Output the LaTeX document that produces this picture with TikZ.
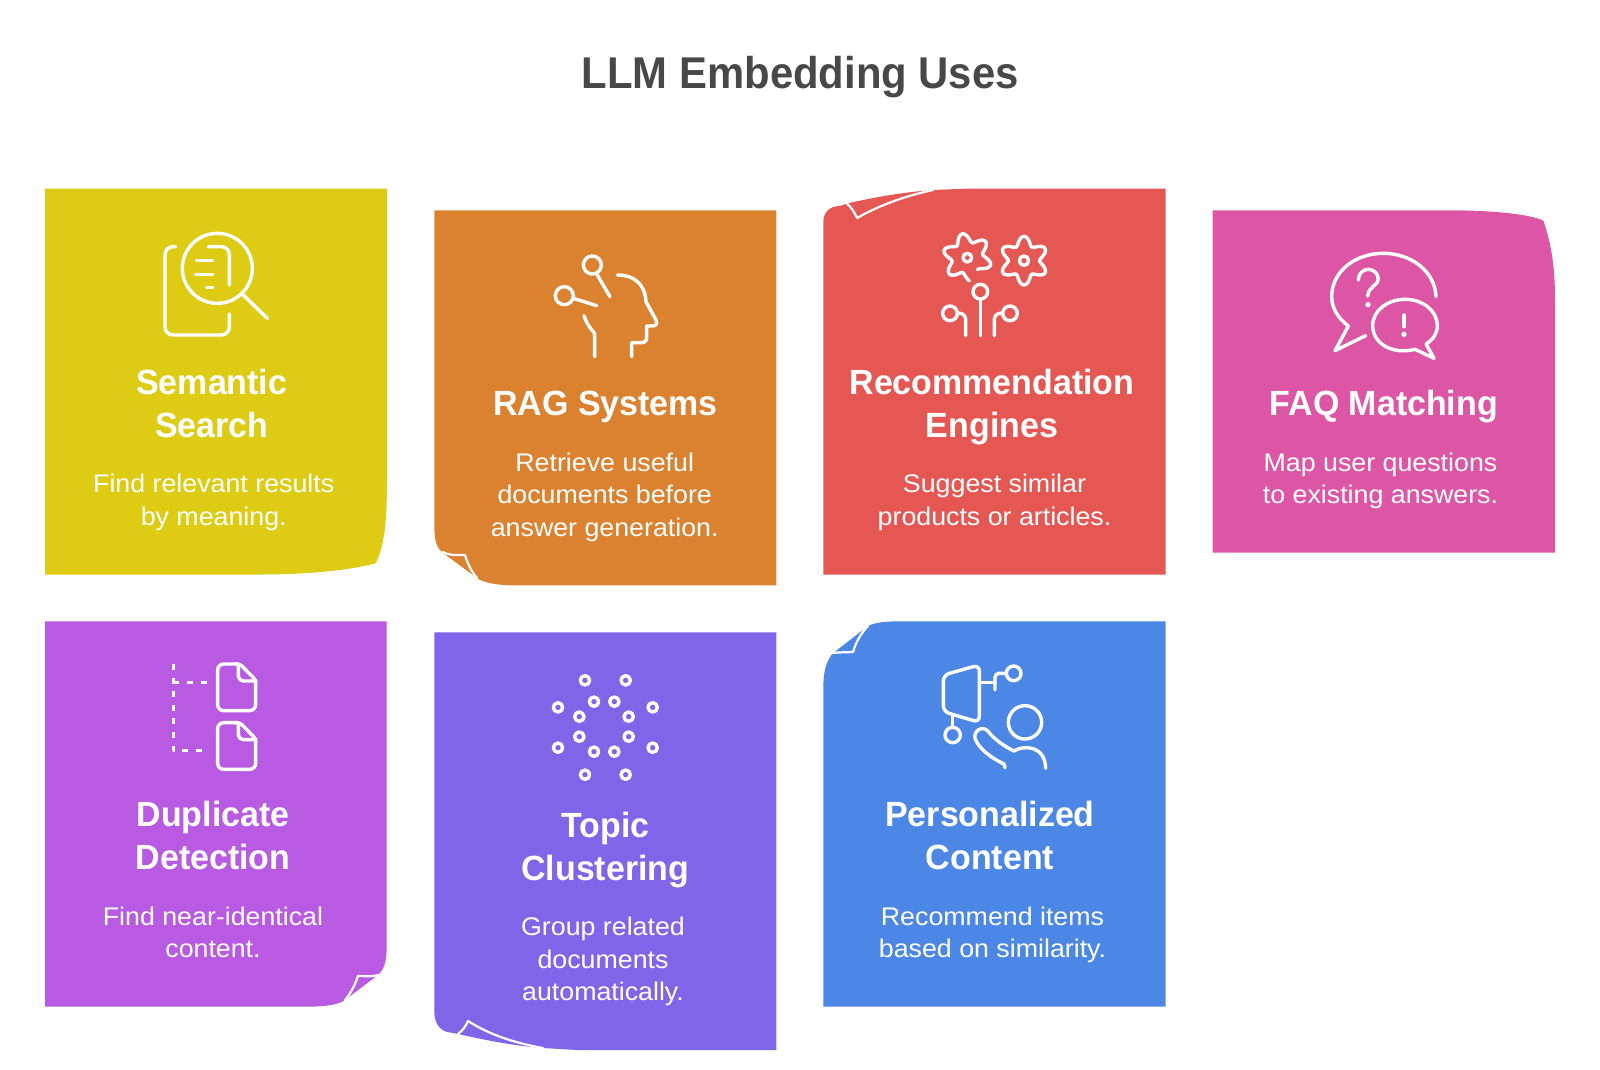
\documentclass[tikz,border=0pt]{standalone}
\usepackage{fontspec}
\setmainfont{Liberation Sans}
\newfontfamily\titlefont[FakeStretch=0.94]{Liberation Sans Bold}
\newfontfamily\headfont[FakeStretch=0.97]{Liberation Sans Bold}
\newfontfamily\bodyfont[FakeStretch=1.05]{Liberation Sans}
\definecolor{cyellow}{HTML}{DDCB14}
\definecolor{corange}{HTML}{DB8231}
\definecolor{cred}{HTML}{E55753}
\definecolor{cpink}{HTML}{DD56A6}
\definecolor{cpurple}{HTML}{B85AE2}
\definecolor{cviolet}{HTML}{7F65E8}
\definecolor{cblue}{HTML}{4C87E6}
\definecolor{ctitle}{HTML}{484848}
\tikzset{
  x=1pt,y=-1pt,
  headtext/.style={anchor=base,align=center,inner sep=0pt,text=white,font=\headfont\fontsize{35}{43}\selectfont},
  bodytext/.style={anchor=base,align=center,inner sep=0pt,text=white,font=\bodyfont\fontsize{25.5}{32.6}\selectfont},
  titletext/.style={anchor=base,inner sep=0pt,text=ctitle,font=\titlefont\fontsize{44.5}{50}\selectfont},
  fold/.style={draw=white,line width=2.2pt,line join=round,line cap=round},
  icon/.style={draw=white,line width=3.4pt,line cap=round,line join=round},
  dashline/.style={icon,line cap=butt,dash pattern=on 6pt off 7.6pt},
  iconscope/.style={shift={#1},scale=0.33333},
}
\begin{document}
\begin{tikzpicture}
\useasboundingbox (0,0) rectangle (1600,1069);
% title
\node[titletext] (title) at (800.3,88.5) {LLM Embedding Uses};

% cards
\fill[cyellow] (45,188.5) -- (387,188.5) -- (387,480) .. controls (387,530) and (383,548) .. (375.7,563.3)
  .. controls (350,570) and (310,574.5) .. (260,574.5) -- (45,574.5) -- cycle;
\fill[corange] (434.3,210.3) -- (776.3,210.3) -- (776.3,585.3) -- (515,585.3)
  .. controls (497,585.3) and (484,583) .. (477,578) -- (443,553)
  .. controls (437,548) and (434.3,542) .. (434.3,525) -- cycle;
\draw[fold] (443,552) .. controls (450,556) and (458,555) .. (465,555) .. controls (468,565) and (472,572) .. (477,578);
\fill[cred] (1165.7,188.5) -- (1165.7,574.5) -- (823.3,574.5) -- (823.3,222)
  .. controls (823.3,212) and (830,206) .. (840,206) -- (847,203.5)
  .. controls (875,197) and (905,192) .. (933,190) -- (970,188.5) -- cycle;
\draw[fold] (847,203.5) .. controls (851,207) and (855,213) .. (857,218) .. controls (880,205) and (905,196) .. (933,190);
\fill[cpink] (1212.7,210.3) -- (1450,210.3) .. controls (1490,210.3) and (1530,214) .. (1543.3,220.7)
  .. controls (1552,245) and (1555,270) .. (1555,300) -- (1555,552.7) -- (1212.7,552.7) -- cycle;
\fill[cpurple] (45,621.3) -- (386.7,621.3) -- (386.7,945) .. controls (386.7,965) and (383,970) .. (378,975)
  -- (345,1000) .. controls (338,1005) and (325,1006.7) .. (305,1006.7) -- (45,1006.7) -- cycle;
\draw[fold] (378,975) .. controls (372,977) and (365,976) .. (358,976) .. controls (355,985) and (351,993) .. (345,1000);
\fill[cviolet] (434.3,632.3) -- (776.3,632.3) -- (776.3,1050) -- (577,1050) -- (543,1048)
  .. controls (515,1046) and (485,1040) .. (458,1034) -- (452,1032.7)
  .. controls (442,1032.7) and (434.3,1025) .. (434.3,1012) -- cycle;
\draw[fold] (458,1034) .. controls (462,1031) and (466,1026) .. (468,1021) .. controls (490,1035) and (515,1043) .. (543,1048);
\fill[cblue] (1165.7,621.3) -- (1165.7,1006.7) -- (823.3,1006.7) -- (823.3,690)
  .. controls (823.3,670) and (826,663) .. (832,654) -- (868,626)
  .. controls (875,622.5) and (885,621.3) .. (900,621.3) -- cycle;
\draw[fold] (832,653) .. controls (840,652) and (846,652.5) .. (853,652) .. controls (856,642) and (861,633) .. (868,626);

% yellow icon
\begin{scope}[iconscope={(30,170)}]
  \draw[icon,rounded corners=8pt] (437,230) -- (405,230) -- (405,495) -- (598,495) -- (598,432);
  \draw[icon] (562,295) circle[radius=105];
  \draw[icon] (640,375) -- (712,445);
  \draw[icon,rounded corners=8pt] (535,230) -- (598,230) -- (598,345);
  \draw[icon] (500,272) -- (548,272) (497,313) -- (548,313) (530,353) -- (548,353);
\end{scope}

% orange icon
\begin{scope}[iconscope={(420,190)}]
  \draw[icon] (517,225) circle[radius=27];
  \draw[icon] (530,252) -- (570,320);
  \draw[icon] (433,317) circle[radius=27];
  \draw[icon] (460,325) -- (530,347);
  \draw[icon] (592,255) .. controls (640,255) and (675,280) .. (678,335) -- (708,390)
     .. controls (713,402) and (708,408) .. (695,408) -- (680,408) -- (680,442)
     .. controls (680,452) and (675,458) .. (665,458) -- (635,458) -- (635,500);
  \draw[icon] (492,377) .. controls (497,395) and (510,415) .. (524,430) -- (524,500);
\end{scope}

% red icon
\begin{scope}[iconscope={(810,170)}]
  \draw[icon] (472,263) circle[radius=13];
  \draw[icon] (642,272) circle[radius=14];
  \draw[icon] plot[smooth,domain=-410:-85,samples=90] ({472+(60+13*cos(6*(\x-102)))*cos(\x)},{263-(60+13*cos(6*(\x-102)))*sin(\x)});
  \draw[icon] plot[smooth cycle,domain=0:356,samples=90] ({642+(60-13*cos(6*\x))*cos(\x)},{272-(60-13*cos(6*\x))*sin(\x)});
  \draw[icon] (511,365) circle[radius=22];
  \draw[icon] (511,387) -- (511,497);
  \draw[icon] (420,430) circle[radius=22];
  \draw[icon,rounded corners=6pt] (442,430) -- (467,430) -- (467,497);
  \draw[icon] (600,430) circle[radius=22];
  \draw[icon,rounded corners=6pt] (578,430) -- (553,430) -- (553,497);
\end{scope}

% pink icon
\begin{scope}[iconscope={(1200,190)}]
  \draw[icon] (708,320) .. controls (705,245) and (635,190) .. (550,190) .. controls (465,190) and (395,245) .. (395,320)
     .. controls (395,355) and (415,385) .. (445,408) -- (405,482) -- (497,437);
  \draw[icon] (475,270) .. controls (475,250) and (490,238) .. (505,238) .. controls (522,238) and (535,252) .. (535,268)
     .. controls (535,285) and (505,290) .. (503,318);
  \fill[white] (504,344) circle[radius=8];
  \draw[icon] (645,478) .. controls (575,495) and (518,460) .. (518,407) .. controls (518,360) and (565,328) .. (615,328)
     .. controls (668,328) and (712,362) .. (712,407) .. controls (712,430) and (700,448) .. (678,462) -- (702,505) -- cycle;
  \draw[icon] (612,375) -- (612,410);
  \fill[white] (612,433) circle[radius=8];
\end{scope}

% purple icon
\begin{scope}[iconscope={(30,610)}]
  \draw[dashline] (430,162) -- (430,421) -- (530,421);
  \draw[dashline] (430,218) -- (530,218);
  \foreach \dy in {0,176} {
    \draw[icon,rounded corners=6pt] (625,162+\dy) -- (563,162+\dy) -- (563,302+\dy) -- (677,302+\dy) -- (677,210+\dy);
    \draw[icon,rounded corners=3pt] (677,222+\dy) -- (677,210+\dy) -- (630,162+\dy) -- (615,162+\dy);
    \draw[icon,rounded corners=5pt] (625,165+\dy) -- (625,213+\dy) -- (675,213+\dy);
  }
\end{scope}

% violet icon
\begin{scope}[iconscope={(420,620)}]
  \foreach \cx/\cy in {495/181,617/181,414/262,698/262,522/245,583/245,478/290,626/290,478/350,626/350,414/383,698/383,522/395,583/395,495/464,617/464}
    \draw[icon] (\cx,\cy) circle[radius=14];
\end{scope}

% blue icon
\begin{scope}[iconscope={(810,610)}]
  \draw[icon,rounded corners=6pt] (400,195) -- (508,165) -- (508,337) -- (400,305) -- cycle;
  \draw[icon] (510,218) -- (555,218);
  \draw[icon,rounded corners=4pt] (555,240) -- (555,190) -- (590,190);
  \draw[icon] (611,190) circle[radius=22];
  \draw[icon] (428,315) -- (428,352);
  \draw[icon] (428,375) circle[radius=23];
  \draw[icon] (645,337) circle[radius=50];
  \draw[icon] (585,473) -- (582,462) .. controls (545,445) and (505,415) .. (495,385)
     .. controls (490,360) and (520,345) .. (535,365) .. controls (555,390) and (585,410) .. (612,423)
     .. controls (640,405) and (705,405) .. (707,475);
\end{scope}

% texts (anchor=base sits on the last line)
\node[headtext] (h1) at (211.8,437) {Semantic\\Search};
\node[bodytext] (b1) at (213.7,525) {Find relevant results\\by meaning.};
\node[headtext] (h2) at (605.5,415.7) {RAG Systems};
\node[bodytext] (b2) at (604.7,536.2) {Retrieve useful\\documents before\\answer generation.};
\node[headtext] (h3) at (992,437) {Recommendation\\Engines};
\node[bodytext] (b3) at (994.5,525) {Suggest similar\\products or articles.};
\node[headtext] (h4) at (1383.8,415.7) {FAQ Matching};
\node[bodytext] (b4) at (1380.5,503.6) {Map user questions\\to existing answers.};
\node[headtext] (h5) at (213,869.2) {Duplicate\\Detection};
\node[bodytext] (b5) at (213,957.6) {Find near-identical\\content.};
\node[headtext] (h6) at (605.3,880.6) {Topic\\Clustering};
\node[bodytext] (b6) at (603,1000.9) {Group related\\documents\\automatically.};
\node[headtext] (h7) at (990,869.2) {Personalized\\Content};
\node[bodytext] (b7) at (992.5,957.6) {Recommend items\\based on similarity.};
\end{tikzpicture}
\end{document}
